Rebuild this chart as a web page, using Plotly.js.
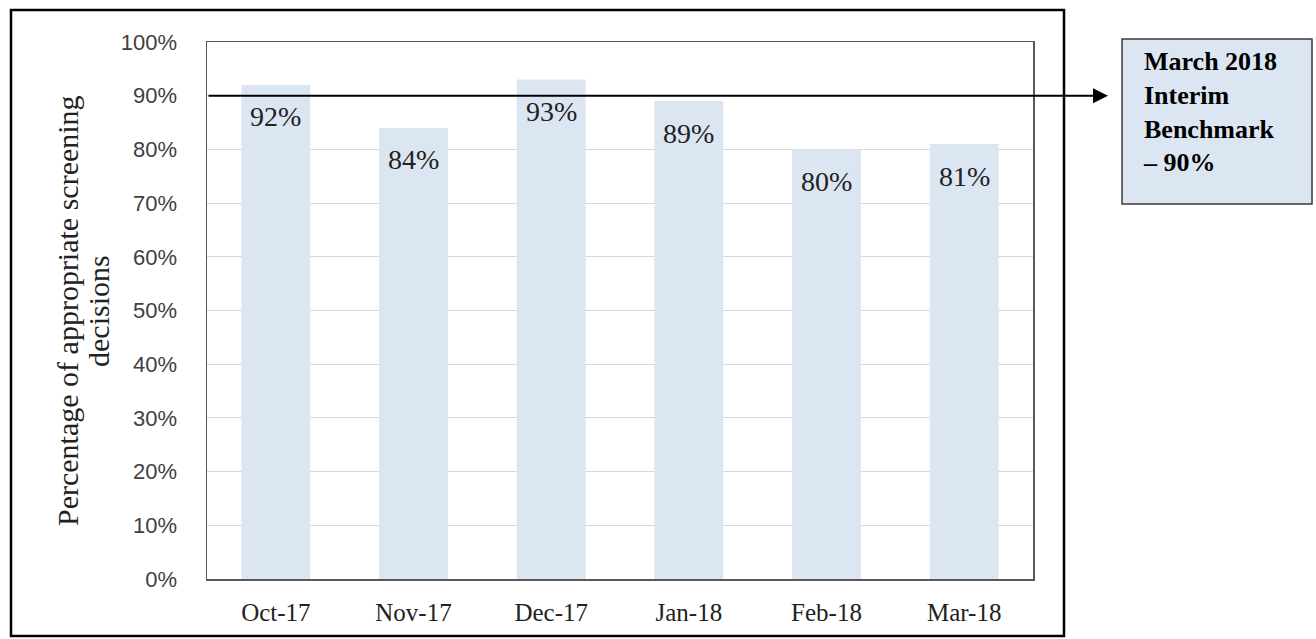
<!DOCTYPE html>
<html>
<head>
<meta charset="utf-8">
<script src="https://cdn.plot.ly/plotly-3.0.1.min.js"></script>
<style>html,body{margin:0;padding:0;background:#fff;}#chart{width:1316px;height:639px;}</style>
</head>
<body>
<div id="chart"></div>
<script>
const categories = ["Oct-17", "Nov-17", "Dec-17", "Jan-18", "Feb-18", "Mar-18"];
const values = [0.92, 0.84, 0.93, 0.89, 0.80, 0.81];
const valueLabels = ["92%", "84%", "93%", "89%", "80%", "81%"];
const benchmark = 0.90;
const benchmarkText = "March 2018<br>Interim<br>Benchmark<br>– 90%";
const yTitleLines = ["Percentage of appropriate screening", "decisions"];

const W = 1316, H = 639;
const L = 207, R = 1033, T = 42, B = 579;
const pw = R - L, ph = B - T;
const px = v => (v - L) / pw;
const py = v => (B - v) / ph;

const serif = "Liberation Serif, Times New Roman, serif";
const sans = "Liberation Sans, Arial, sans-serif";

const trace = {
  type: "bar",
  x: categories,
  y: values,
  marker: {color: "#dce6f2", line: {width: 0}},
  hoverinfo: "skip"
};

const annotations = [];
// value labels just below each bar top
categories.forEach((c, i) => {
  annotations.push({
    xref: "x", yref: "y", x: c, y: values[i],
    text: valueLabels[i], showarrow: false,
    xanchor: "center", yanchor: "middle", yshift: -32,
    font: {family: serif, size: 28, color: "#222"}
  });
});
// benchmark arrow
annotations.push({
  xref: "paper", yref: "y", x: px(1108), y: benchmark,
  axref: "pixel", ayref: "pixel", ax: -(1108 - L), ay: 0,
  text: "", showarrow: true, arrowhead: 2, arrowsize: 1.5, arrowwidth: 2, arrowcolor: "#000",
  standoff: 0, startstandoff: 0
});
// benchmark text
annotations.push({
  xref: "paper", yref: "paper", x: px(1142), y: py(46),
  xanchor: "left", yanchor: "top", align: "left",
  text: "<b>" + benchmarkText + "</b>", showarrow: false, borderpad: 0,
  font: {family: serif, size: 26, color: "#000"}
});
// y-axis title, two lines
[67, 98].forEach((xp, i) => {
  annotations.push({
    xref: "paper", yref: "paper", x: px(xp), y: py(311),
    xanchor: "center", yanchor: "middle", textangle: -90,
    text: yTitleLines[i], showarrow: false, borderpad: 0,
    font: {family: serif, size: 30, color: "#222"}
  });
});

const layout = {
  width: W, height: H,
  margin: {l: L, r: W - R, t: T, b: H - B, pad: 0},
  paper_bgcolor: "#fff",
  plot_bgcolor: "#fff",
  showlegend: false,
  bargap: 0.5,
  xaxis: {
    type: "category",
    showline: true, mirror: true, linecolor: "#595959", linewidth: 1.5,
    showgrid: false, ticks: "",
    ticklabelstandoff: 10,
    tickfont: {family: serif, size: 25, color: "#222"},
    fixedrange: true
  },
  yaxis: {
    range: [0, 1],
    dtick: 0.1,
    tickformat: ".0%",
    showline: true, mirror: true, linecolor: "#595959", linewidth: 1.5,
    showgrid: true, gridcolor: "#d9d9d9", gridwidth: 1,
    zeroline: false, ticks: "",
    ticklabelstandoff: 24,
    tickfont: {family: sans, size: 22, color: "#404040"},
    automargin: false,
    fixedrange: true
  },
  shapes: [
    {type: "rect", xref: "paper", yref: "paper",
     x0: px(11), x1: px(1064), y0: py(10), y1: py(636),
     line: {color: "#000", width: 2.5}, fillcolor: "rgba(0,0,0,0)", layer: "above"},
    {type: "rect", xref: "paper", yref: "paper",
     x0: px(1122), x1: px(1312), y0: py(204), y1: py(39),
     line: {color: "#3a3a3a", width: 1.5}, fillcolor: "#dce6f2", layer: "above"}
  ],
  annotations: annotations
};

Plotly.newPlot("chart", [trace], layout, {displayModeBar: false, staticPlot: true});
</script>
</body>
</html>
